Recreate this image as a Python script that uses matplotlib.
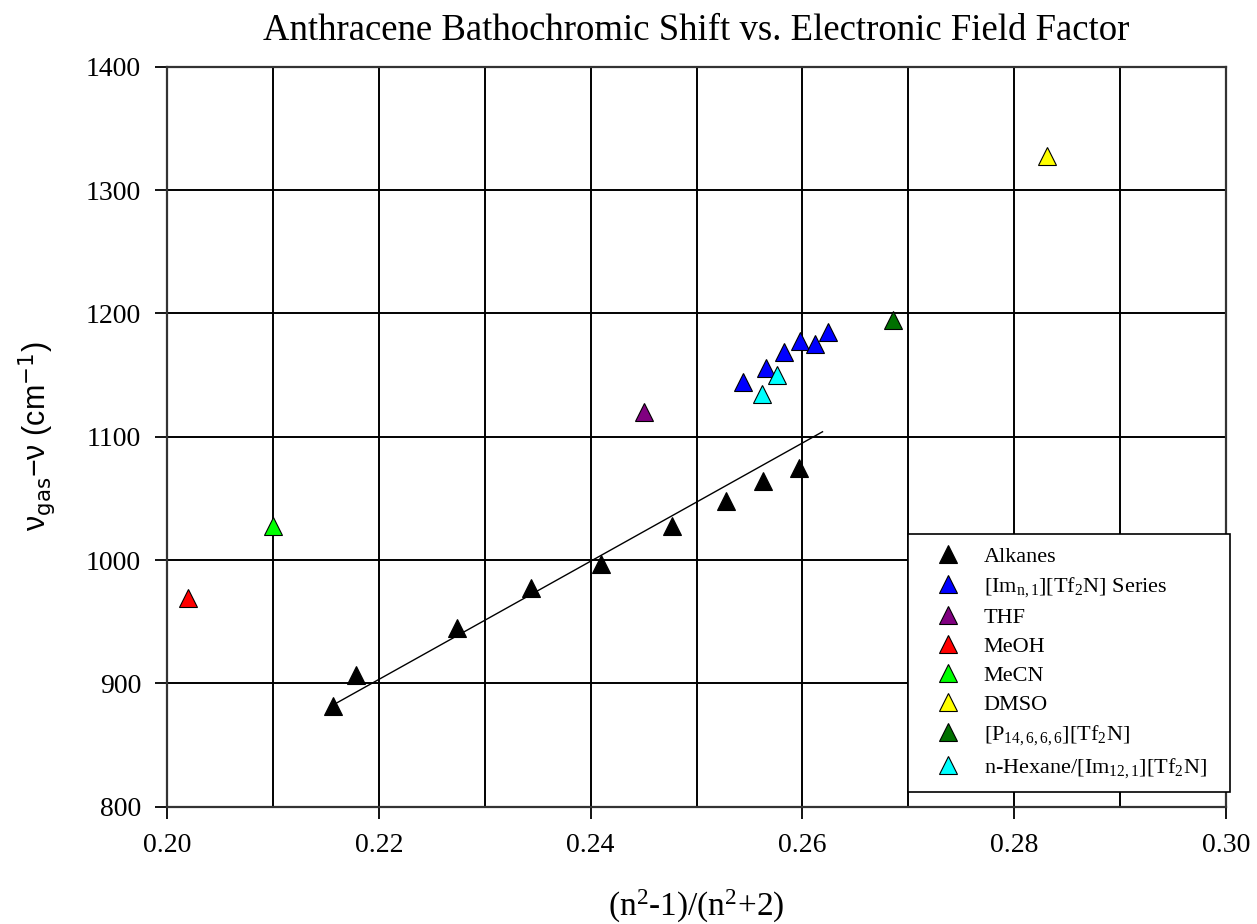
import matplotlib
matplotlib.use("Agg")
import matplotlib.pyplot as plt
import numpy as np
from matplotlib.ticker import MultipleLocator, FormatStrFormatter

plt.rcParams["font.family"] = ["Liberation Serif", "DejaVu Serif"]
plt.rcParams["mathtext.fontset"] = "custom"
plt.rcParams["mathtext.rm"] = "Liberation Serif"
plt.rcParams["mathtext.it"] = "Liberation Serif:italic"

# values
alk_x = [0.2157, 0.2178, 0.2274, 0.2344, 0.2410, 0.2477, 0.2528, 0.2563, 0.2597]
alk_y = [882, 907, 945, 977, 997, 1028, 1048, 1064, 1075]
im_x = [0.2544, 0.2566, 0.2583, 0.2598, 0.2612, 0.2624]
im_y = [1144, 1156, 1169, 1178, 1175, 1185]
thf_x, thf_y = [0.2450], [1120]
meoh_x, meoh_y = [0.2020], [969]
mecn_x, mecn_y = [0.2100], [1028]
dmso_x, dmso_y = [0.2831], [1328]
p14_x, p14_y = [0.2686], [1195]
hex_x = [0.2576, 0.2562]
hex_y = [1150, 1135]
fit_x = [0.2160, 0.2619]
fit_y = [884, 1104]

series = [
    ("Alkanes", alk_x, alk_y, "#000000"),
    ("[Im$_{\\mathrm{n,1}}$][Tf$_{\\mathrm{2}}$N] Series", im_x, im_y, "#0000ff"),
    ("THF", thf_x, thf_y, "#800080"),
    ("MeOH", meoh_x, meoh_y, "#ff0000"),
    ("MeCN", mecn_x, mecn_y, "#00ff00"),
    ("DMSO", dmso_x, dmso_y, "#ffff00"),
    ("[P$_{\\mathrm{14,6,6,6}}$][Tf$_{\\mathrm{2}}$N]", p14_x, p14_y, "#007000"),
    ("n-Hexane/[Im$_{\\mathrm{12,1}}$][Tf$_{\\mathrm{2}}$N]", hex_x, hex_y, "#00ffff"),
]

W, H = 1257, 924
fig = plt.figure(figsize=(W / 100, H / 100), dpi=100)
ax = fig.add_axes([167 / W, 1 - 806.7 / H, (1226 - 167) / W, (806.7 - 66.7) / H])

ax.plot(fit_x, fit_y, color="black", lw=1.0, zorder=3)
for label, xs, ys, col in series:
    ax.plot(xs, ys, linestyle="none", marker="^", ms=13.5, mfc=col, mec="black",
            mew=0.8, label=label, zorder=4)

ax.set_xlim(0.20, 0.30)
ax.set_ylim(800, 1400)
ax.xaxis.set_major_locator(MultipleLocator(0.02))
ax.xaxis.set_minor_locator(MultipleLocator(0.01))
ax.yaxis.set_major_locator(MultipleLocator(100))
ax.xaxis.set_major_formatter(FormatStrFormatter("%.2f"))
ax.grid(True, which="both", color="black", lw=1.4, zorder=1)
ax.set_axisbelow(True)
ax.tick_params(which="major", direction="out", length=8.6, width=1.3,
               labelsize=20, pad=10)
ax.tick_params(which="minor", length=0)
for sp in ax.spines.values():
    sp.set_linewidth(1.6)
    sp.set_color("#333333")

ax.set_title("Anthracene Bathochromic Shift vs. Electronic Field Factor",
             fontsize=26.5, pad=19)
ax.set_xlabel("(n$^{\\mathrm{2}}$-1)/(n$^{\\mathrm{2}}$+2)", fontsize=24, labelpad=22)
ax.set_ylabel("\u03bd$_{\\mathrm{gas}}$\u2212\u03bd (cm$^{\\mathrm{-1}}$)",
              fontsize=22, family=["Liberation Sans", "DejaVu Sans"],
              math_fontfamily="dejavusans", labelpad=20)

leg = ax.legend(loc="lower left", bbox_to_anchor=(908 / W, 1 - 792 / H, 322 / W, 0.2),
                bbox_transform=fig.transFigure, mode="expand", borderaxespad=0,
                fontsize=16, frameon=True, fancybox=False, framealpha=1,
                edgecolor="black", borderpad=0.55, handlelength=2.5,
                handletextpad=0.35, labelspacing=0.38)
leg.get_frame().set_linewidth(1.2)

fig.savefig("out.png", dpi=100)
